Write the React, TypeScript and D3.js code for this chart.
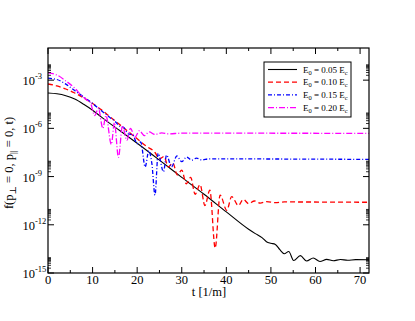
import React from "react";
import * as d3 from "d3";

// ---- data (t, log10 f) ----
const tBlack = [0, 2, 4, 6, 8, 10, 12, 14, 16, 18, 20, 25, 30, 35, 40, 45, 46.5, 48, 49, 50, 51, 52, 53, 54, 55.1, 56.6, 58.0, 59.5, 61.0, 62.5, 64.0, 65.6, 67.2, 69, 72];
const vBlack = [-3.8, -3.85, -3.97, -4.18, -4.5, -4.87, -5.3, -5.72, -6.12, -6.52, -6.93, -7.98, -9.05, -10.1, -11.2, -12.28, -12.55, -12.8, -13.05, -13.15, -13.22, -13.55, -13.8, -13.66, -14.22, -13.92, -14.25, -14.07, -14.28, -14.15, -14.24, -14.16, -14.21, -14.17, -14.18];

const tRed = [0, 2, 4, 6, 8, 10, 12, 14, 16, 18, 20, 22, 24, 25, 26, 27, 28, 29, 30, 31, 32, 33, 34.1, 35.2, 36.3, 37.5, 38.6, 40.1, 41.2, 42.7, 43.8, 45, 46.3, 47.6, 49, 51, 53, 72];
const vRed = [-3.24, -3.36, -3.55, -3.8, -4.1, -4.45, -4.85, -5.3, -5.75, -6.2, -6.65, -7.1, -7.5, -7.9, -7.75, -8.4, -8.15, -8.9, -8.6, -9.45, -9.05, -10.1, -9.5, -10.8, -9.85, -13.45, -10.15, -11.1, -10.25, -10.8, -10.42, -10.68, -10.52, -10.65, -10.56, -10.62, -10.58, -10.6];

const tBlue = [0, 2, 4, 6, 8, 10, 12, 14, 15, 16, 17, 18, 19, 20, 20.8, 21.8, 22.6, 23.3, 24, 24.7, 25.9, 26.6, 27.7, 28.9, 30, 31.1, 32.2, 33.3, 34.5, 36, 72];
const vBlue = [-2.88, -2.96, -3.25, -3.65, -4.05, -4.45, -4.9, -5.35, -5.55, -5.85, -5.95, -6.35, -6.4, -6.95, -6.85, -8.4, -7.4, -8.2, -10.15, -7.55, -8.7, -7.66, -8.4, -7.72, -8.07, -7.78, -7.98, -7.85, -7.96, -7.9, -7.93];

const tMag = [0, 2, 4, 6, 7.5, 8.5, 9.5, 10.5, 11.3, 12.3, 13.0, 14.2, 14.9, 15.8, 16.7, 17.7, 18.5, 19.5, 20.5, 21.6, 22.7, 24, 25.5, 27, 30, 72];
const vMag = [-2.55, -2.68, -3.05, -3.5, -3.95, -4.2, -4.4, -5.2, -4.75, -6.0, -5.2, -7.0, -5.65, -7.8, -5.85, -6.75, -6.0, -6.55, -6.15, -6.45, -6.22, -6.38, -6.28, -6.34, -6.3, -6.31];

const seriesLabels = ["0.05", "0.10", "0.15", "0.20"];
const xTicks = [0, 10, 20, 30, 40, 50, 60, 70];
const xMinor = [5, 15, 25, 35, 45, 55, 65];
const yMajorExp = [-15, -12, -9, -6, -3];

export default function App() {
  const W = 415, H = 321;
  const L = 48, R = 369, T = 48, B = 273;
  const x = d3.scaleLinear().domain([0, 72]).range([L, R]);
  const y = d3.scaleLog().domain([1e-15, 1e-1]).range([B, T]);

  const mk = (ts: number[], vs: number[]) =>
    d3.line<number>()
      .x((_, i) => x(ts[i]))
      .y((_, i) => y(Math.pow(10, vs[i])))
      .curve(d3.curveMonotoneX)(ts.map((t) => t)) || "";

  const series = [
    { d: mk(tBlack, vBlack), color: "#000000", dash: "", w: 1.1 },
    { d: mk(tRed, vRed), color: "#ff0000", dash: "5,3", w: 1.3 },
    { d: mk(tBlue, vBlue), color: "#0000ff", dash: "4,2,1,2", w: 1.3 },
    { d: mk(tMag, vMag), color: "#ff00ff", dash: "6,2,1,2", w: 1.3 },
  ];

  const yMinor: number[] = [];
  yMajorExp.forEach((e) => {
    for (let k = 2; k <= 9; k++) yMinor.push(k * Math.pow(10, e));
  });

  const font = "'Liberation Serif', 'DejaVu Serif', serif";

  return (
    <svg width={W} height={H} style={{ position: "absolute", left: 0, top: 0 }} fontFamily={font}>
      <rect x={0} y={0} width={W} height={H} fill="white" />
      <defs>
        <clipPath id="plotclip">
          <rect x={L} y={T} width={R - L} height={B - T} />
        </clipPath>
      </defs>
      <g clipPath="url(#plotclip)">
        {series.map((s, i) => (
          <path key={i} d={s.d} fill="none" stroke={s.color} strokeWidth={s.w} strokeDasharray={s.dash} />
        ))}
      </g>
      {/* frame */}
      <rect x={L} y={T} width={R - L} height={B - T} fill="none" stroke="#000" strokeWidth={1.2} />
      {/* x ticks */}
      {xTicks.map((t) => (
        <g key={"xt" + t}>
          <line x1={x(t)} x2={x(t)} y1={B} y2={B - 6} stroke="#000" />
          <line x1={x(t)} x2={x(t)} y1={T} y2={T + 6} stroke="#000" />
          <text x={x(t)} y={284} fontSize={12.5} textAnchor="middle">{t}</text>
        </g>
      ))}
      {xMinor.map((t) => (
        <g key={"xm" + t}>
          <line x1={x(t)} x2={x(t)} y1={B} y2={B - 3} stroke="#000" />
          <line x1={x(t)} x2={x(t)} y1={T} y2={T + 3} stroke="#000" />
        </g>
      ))}
      {/* y ticks */}
      {yMajorExp.map((e) => {
        const yy = y(Math.pow(10, e));
        return (
          <g key={"yt" + e}>
            <line x1={L} x2={L + 6} y1={yy} y2={yy} stroke="#000" />
            <line x1={R} x2={R - 6} y1={yy} y2={yy} stroke="#000" />
            <text x={35} y={yy + 5} fontSize={12.5} textAnchor="end">10</text>
            <text x={35} y={yy - 1} fontSize={8.5} textAnchor="start">{"-" + Math.abs(e)}</text>
          </g>
        );
      })}
      {yMinor.map((v, i) => {
        const yy = y(v);
        return (
          <g key={"ym" + i}>
            <line x1={L} x2={L + 3} y1={yy} y2={yy} stroke="#000" strokeWidth={0.8} />
            <line x1={R} x2={R - 3} y1={yy} y2={yy} stroke="#000" strokeWidth={0.8} />
          </g>
        );
      })}
      {/* axis labels */}
      <text x={209} y={296} fontSize={12.5} textAnchor="middle">t [1/m]</text>
      <text transform={`translate(13,${163}) rotate(-90)`} fontSize={12.5} textAnchor="middle">
        f(p<tspan fontSize={9} dy={3}>⊥</tspan>
        <tspan dy={-3}> = 0, p</tspan>
        <tspan fontSize={9} dy={3}>||</tspan>
        <tspan dy={-3}> = 0,  t)</tspan>
      </text>
      {/* legend */}
      <rect x={264} y={62} width={87} height={55} fill="white" stroke="#000" strokeWidth={1} />
      {series.map((s, i) => {
        const yy = 69.5 + i * 12.7;
        return (
          <g key={"lg" + i}>
            <line x1={268} x2={297} y1={yy} y2={yy} stroke={s.color} strokeWidth={s.w} strokeDasharray={s.dash} />
            <text x={303} y={yy + 3} fontSize={9}>
              E<tspan fontSize={6.5} dy={2}>0</tspan>
              <tspan dy={-2}>{" = " + seriesLabels[i] + " E"}</tspan>
              <tspan fontSize={6.5} dy={2}>c</tspan>
            </text>
          </g>
        );
      })}
    </svg>
  );
}
